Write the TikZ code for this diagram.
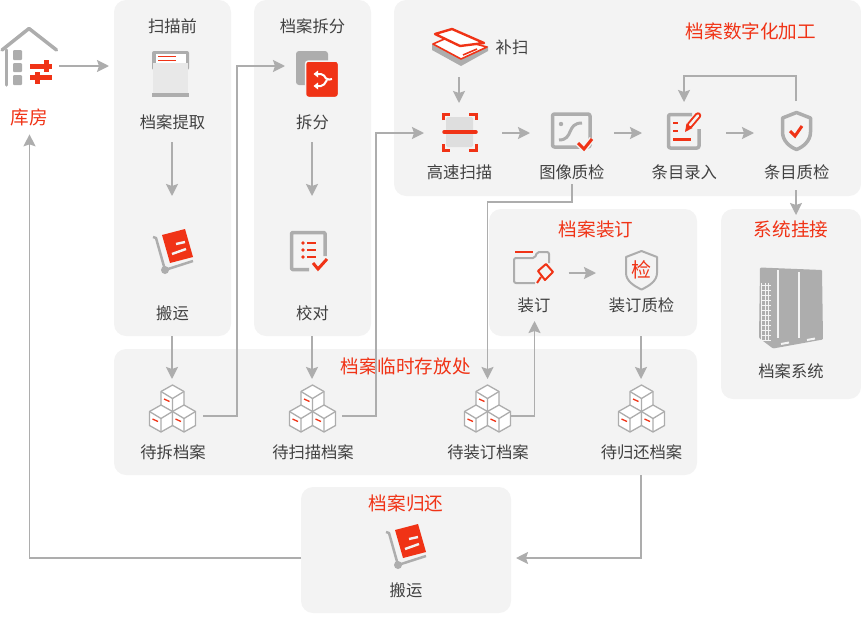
\documentclass[tikz,border=0pt]{standalone}
\usepackage{fontspec}
\setmainfont{Noto Sans CJK SC}
\usetikzlibrary{arrows.meta}
\usetikzlibrary{positioning}

\definecolor{redA}{HTML}{F03316}
\definecolor{grayA}{HTML}{ADADAD}
\definecolor{grayB}{HTML}{DEDEDE}
\definecolor{panelA}{HTML}{F3F3F3}
\definecolor{textA}{HTML}{404040}

\tikzset{
  panel/.style={fill=panelA, rounded corners=12pt, inner sep=0, outer sep=0},
  lbl/.style={font=\fontsize{16.3}{18}\selectfont, text=textA, inner sep=0},
  title/.style={font=\fontsize{18.6}{20}\selectfont, text=redA, inner sep=0},
  slot/.style n args={2}{minimum width=#1, minimum height=#2, inner sep=0, outer sep=0},
  arr/.style={draw=grayA, line width=1.9pt, -{Stealth[length=12pt, width=12pt, inset=2pt]}},
  gline/.style={draw=grayA, line width=3.5pt, line join=round},
  rline/.style={draw=redA, line width=3pt},
  cube/.pic={
    \draw[draw=grayA, fill=white, line width=1.3pt, line join=round]
      (0,-13.5) -- (11.5,-7) -- (11.5,7) -- (0,13.5) -- (-11.5,7) -- (-11.5,-7) -- cycle;
    \draw[draw=grayA, line width=1.3pt, line join=round]
      (-11.5,-7) -- (0,0) -- (11.5,-7) (0,0) -- (0,13.5);
    \draw[draw=redA, line width=1.3pt] (-8.5,0.5) -- (-3,3);
  },
  cubes/.pic={
    \pic at (0,-17.5) {cube};
    \pic at (-11.5,2.5) {cube};
    \pic at (11.5,2.5) {cube};
  },
  cart/.pic={
    \draw[draw=grayA, line width=2.5pt, line join=round] (-20,-15) -- (-17,-14) -- (-8,18) -- (20,9);
    \fill[grayA] (-8,18) circle (4);
    \fill[redA] (-11,-17) -- (12,-23) -- (20,5) -- (-3,11) -- cycle;
    \draw[draw=panelA, line width=2.4pt] (3,-8) -- (12,-10) (-1,2) -- (13,-3);
  },
}

\begin{document}
\begin{tikzpicture}[x=1pt, y=-1pt]
\useasboundingbox (0,0) rectangle (861,616);

% panels
\node[panel, minimum width=117, minimum height=336] (pre)  at (172.5,168)  {};
\node[panel, minimum width=117, minimum height=336] (cut)  at (312.5,168)  {};
\node[panel, minimum width=467, minimum height=196] (digi) at (627.5,98)   {};
\node[panel, minimum width=208, minimum height=127] (bindp) at (593,272.5) {};
\node[panel, minimum width=140, minimum height=190] (sys)  at (791,304)    {};
\node[panel, minimum width=583, minimum height=126] (temp) at (405.5,412)  {};
\node[panel, minimum width=210, minimum height=126] (back) at (406,550)    {};

% slots the connectors run between
\node[slot={60}{40}]   (house)   at (29,66)      {};
\node[slot={80}{92}]   (fetch)   at (172,96)     {};
\node[slot={80}{108}]  (cartA)   at (172,250)    {};
\node[slot={54}{152}]  (split)   at (312,66)     {};
\node[slot={80}{108}]  (check)   at (312,250)    {};
\node[slot={56}{60}]   (flatbed) at (459,47)     {};
\node[slot={78}{60}]   (scan)    at (463,133)    {};
\node[slot={84}{102}]  (imgqc)   at (572,133)    {};
\node[slot={84}{62}]   (entry)   at (684,133)    {};
\node[slot={84}{89}]   (shield)  at (796,145.5)  {};
\node[slot={68}{96}]   (bind)    at (534.5,273)  {};
\node[slot={90}{108}]  (bindqc)  at (641,273)    {};
\node[slot={62}{74}]   (cubesA)  at (172,416)    {};
\node[slot={60}{74}]   (cubesB)  at (312,416)    {};
\node[slot={46}{74}]   (cubesC)  at (487.5,416)  {};
\node[slot={60}{74}]   (cubesD)  at (641,416)    {};
\node[slot={50}{50}]   (cartB)   at (406,558)    {};

% labels
\node[title] (store) at (29.5,117.5) {库房};
\node[lbl] (preT)   at (172.5,26.5)  {扫描前};
\node[lbl] (fetchL) at (172.5,122.5) {档案提取};
\node[lbl] (cartAL) at (172.5,313.5) {搬运};
\node[lbl] (cutT)   at (312.5,26.5)  {档案拆分};
\node[lbl] (splitL) at (312.5,122.5) {拆分};
\node[lbl] (checkL) at (312.5,313.5) {校对};
\node[lbl] (flatL)  at (512,47.5)  {补扫};
\node[title] (digiT) at (751,31.5) {档案数字化加工};
\node[lbl] (scanL)   at (459.5,172.5) {高速扫描};
\node[lbl] (imgqcL)  [right=46.8pt of scanL] {图像质检};
\node[lbl] (entryL)  [right=46.8pt of imgqcL] {条目录入};
\node[lbl] (shieldL) [right=46.8pt of entryL] {条目质检};
\node[title] (bindT) at (596,229.5) {档案装订};
\node[lbl] (bindL)   at (534,305.5) {装订};
\node[lbl] (bindqcL) at (641.5,305.5) {装订质检};
\node[title] (sysT)  at (791,229.5) {系统挂接};
\node[lbl] (sysL)    at (791,371.5) {档案系统};
\node[title] (tempT) at (405.5,366.5) {档案临时存放处};
\node[lbl] (cubesAL) at (173,452.5) {待拆档案};
\node[lbl] (cubesBL) at (313,452.5) {待扫描档案};
\node[lbl] (cubesCL) at (488,452.5)   {待装订档案};
\node[lbl] (cubesDL) at (641.5,452.5) {待归还档案};
\node[title] (backT) at (406,503.5) {档案归还};
\node[lbl] (cartBL)  at (406,590.5) {搬运};

% connectors
\draw[arr, shorten >=5pt] (house.east) -- (house -| pre.west);
\draw[arr] (fetch) -- (cartA);
\draw[arr] (pre.south -| cartA) -- (cubesA.north);
\draw[arr] (cubesA.east) -- ++(34,0) |- (split.west);
\draw[arr] (split) -- (check);
\draw[arr] (cut.south -| check) -- (cubesB.north);
\draw[arr] (cubesB.east) -- ++(34,0) |- (scan.west);
\draw[arr] (flatbed.south) -- (flatbed.south |- scan.north);
\draw[arr] (scan.east) -- (imgqc.west);
\draw[arr] (imgqc.east) -- (entry.west);
\draw[arr] (entry.east) -- (entry.east -| shield.west);
\draw[arr] (shield.north) -- ++(0,-25) -| (entry.north);
\draw[arr, shorten >=-6pt] (shield.south) -- (shield.south |- sys.north);
\draw[arr] (imgqc.south) -- ++(0,18) -| (cubesC.north);
\draw[arr] (cubesC.east) -| (bind.south);
\draw[arr] (bind.east) -- (bindqc.west);
\draw[arr] (bindp.south -| bindqc) -- (cubesD.north);
\draw[arr, shorten >=5pt] (temp.south -| cubesD) |- (back.east |- cartB);
\draw[arr, shorten >=8pt] (back.west |- cartB) -| (store.south);

% house
\draw[gline, line cap=round] (2,50) -- (29,28.5) -- (56.5,50);
\draw[gline, line cap=round] (6.5,50) -- (6.5,85);
\fill[grayA, rounded corners=1pt] (13,50) rectangle (22,60);
\fill[grayA, rounded corners=1pt] (13,63) rectangle (22,72);
\fill[grayA, rounded corners=1pt] (13,75) rectangle (22,85);
\draw[draw=redA, line width=5pt] (30,66.5) -- (52,66.5) (30,77.5) -- (52,77.5);
\draw[draw=redA, line width=5pt] (46,60) -- (46,72) (37.5,72) -- (37.5,84);

% fetch
\fill[grayA, rounded corners=2pt] (152,51) rectangle (189,70);
\fill[white] (155.5,54) rectangle (185.5,66);
\draw[draw=redA, line width=1pt] (158,56.5) -- (176,56.5) (158,60.5) -- (176,60.5);
\fill[panelA!90!gray] (153,63) rectangle (188,93);
\fill[grayA] (152,93) rectangle (189,97);

\pic at (173,252) {cart};

% split
\fill[grayA, rounded corners=3pt] (296,51) rectangle (328,85);
\draw[draw=panelA, line width=1.5pt, fill=redA, rounded corners=3pt] (305.5,61) rectangle (338.5,97.5);
\draw[draw=white, line width=2pt, rounded corners=2pt] (317,74) -- (323,74) -- (327,80) -- (332,79);
\draw[draw=white, line width=2pt, rounded corners=2pt] (317,86) -- (323,86) -- (327,80);
\fill[white] (313.5,74) -- (318,70.5) -- (318,77.5) -- cycle (313.5,86) -- (318,82.5) -- (318,89.5) -- cycle;

% check
\draw[gline, rounded corners=1pt] (325,256) -- (325,232.5) -- (291.5,232.5) -- (291.5,269.5) -- (309,269.5);
\fill[redA] (303,243) circle (1.8) (303,250) circle (1.8) (303,257) circle (1.8);
\draw[draw=redA, line width=2.7pt] (307,243) -- (316,243) (307,250) -- (316,250) (307,257) -- (316,257);
\draw[rline] (313,263) -- (318,269) -- (327,259);

% flatbed
\fill[grayA] (432,44) -- (461,58) -- (488,46) -- (488,51) -- (461,66) -- (432,50) -- cycle;
\draw[draw=redA, fill=white, line width=1.6pt, line join=round] (433,44) -- (449,37) -- (487,47) -- (461,59) -- cycle;
\draw[draw=redA, line width=1.6pt] (463,55) -- (477,49);
\draw[draw=redA, fill=white, line width=2.4pt, line join=round] (435,34) -- (452,29) -- (484,43) -- (460,46) -- cycle;

% scan
\fill[grayB, rounded corners=1.5pt] (446,117) rectangle (473,147);
\draw[draw=redA, line width=3pt] (443,120) -- (443,114.5) -- (450,114.5) (469,114.5) -- (476,114.5) -- (476,120)
  (443,144) -- (443,150) -- (450,150) (469,150) -- (476,150) -- (476,144);
\draw[draw=redA, line width=3.5pt, line cap=round] (444,132) -- (476,132);

% imgqc
\draw[gline, rounded corners=2pt] (552.5,114) rectangle (590,147);
\fill[grayA] (561,124) circle (2.2);
\draw[draw=grayA, line width=3pt] (559,140) .. controls (574,140) and (566,123) .. (582,123);
\draw[draw=panelA, line width=6pt] (578,143) -- (584,149) -- (592,139);
\draw[rline] (578,143) -- (584,149) -- (592,139);

% entry
\draw[gline, rounded corners=2pt] (692,114.5) -- (668.5,114.5) -- (668.5,148) -- (699,148) -- (699,129);
\draw[draw=redA, line width=2.5pt] (673,123) -- (678,123) (673,131) -- (678,131) (673,139.5) -- (691,139.5);
\draw[draw=redA, line width=6.5pt, line cap=round] (690,125) -- (698,115.5);
\draw[draw=panelA, line width=2.5pt, line cap=round] (690,125) -- (698,115.5);
\fill[redA] (685,132) -- (686.5,123.5) -- (692.5,128) -- cycle;

% shield
\draw[gline, line join=round] (796.5,112.5) -- (810.5,118) -- (810.5,132) .. controls (810.5,141) and (803,147) .. (796.5,149.5)
  .. controls (790,147) and (782.5,141) .. (782.5,132) -- (782.5,118) -- cycle;
\draw[rline] (790,131) -- (795,136) -- (802,126);

% bind
\draw[draw=grayA, line width=2pt, line join=round, rounded corners=2pt] (535,283) -- (514,283) -- (514,258) -- (535,258) -- (537,252) -- (549,252) -- (549,263);
\draw[draw=redA, line width=2.5pt] (515,252) -- (533,252);
\draw[draw=panelA, fill=panelA, line width=3pt] (537,270) -- (545,263) -- (553,273) -- (545,282) -- cycle;
\draw[draw=redA, line width=2pt, line join=round] (538,271) -- (546,264) -- (553,272) -- (545,280) -- cycle;
\draw[draw=redA, line width=2pt] (537,283) -- (541,277);

% bindqc
\draw[draw=grayA, line width=2pt, line join=round] (641.5,251) -- (657,257) -- (657,273) .. controls (657,281) and (649,286) .. (641.5,289.5)
  .. controls (634,286) and (626,281) .. (626,273) -- (626,257) -- cycle;
\node[font=\fontsize{20}{21}\selectfont, text=redA, inner sep=0] (bindqcC) at (641.5,269.5) {检};

% server
\fill[grayA, rounded corners=1pt] (760,267.5) -- (822,270) -- (823,339.5) -- (773,348.5) -- (759,338) -- cycle;
\draw[draw=panelA, line width=1.5pt] (778,270) -- (778,338) (799,272) -- (799,338);
\draw[draw=panelA, line width=0.8pt] (761,283) grid[xstep=3.4pt, ystep=5pt] (771,341);
\draw[draw=panelA, line width=2pt] (781,344) -- (789,342.5) (807,340) -- (815,338.5);

\pic at (172.5,416) {cubes};
\pic at (312.5,416) {cubes};
\pic at (487.5,416) {cubes};
\pic at (641.5,416) {cubes};
\pic at (406,547) {cart};
\end{tikzpicture}
\end{document}
